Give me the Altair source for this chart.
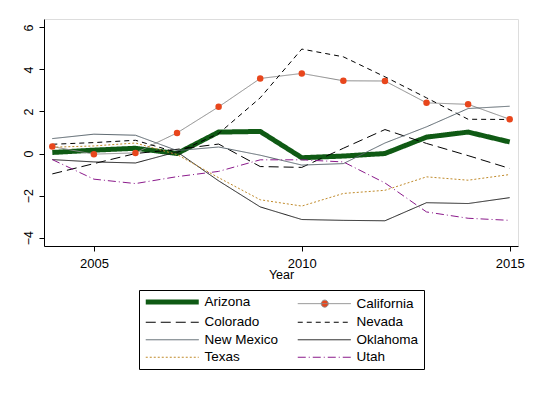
import altair as alt
import pandas as pd

years = list(range(2004, 2016))
states = ["Arizona", "California", "Colorado", "Nevada", "New Mexico", "Oklahoma", "Texas", "Utah"]

arizona = [0.05, 0.16, 0.25, 0.0, 1.02, 1.05, -0.2, -0.12, 0.0, 0.78, 1.02, 0.55]
california = [0.33, -0.03, 0.03, 0.98, 2.22, 3.57, 3.81, 3.46, 3.45, 2.41, 2.34, 1.63]
colorado = [-0.97, -0.48, 0.0, 0.2, 0.45, -0.62, -0.66, 0.25, 1.14, 0.48, -0.1, -0.71]
nevada = [0.44, 0.52, 0.63, 0.05, 0.95, 2.65, 4.97, 4.6, 3.65, 2.65, 1.63, 1.62]
new_mexico = [0.71, 0.92, 0.87, 0.14, 0.31, -0.08, -0.55, -0.48, 0.5, 1.27, 2.14, 2.25]
oklahoma = [-0.29, -0.4, -0.45, 0.08, -1.3, -2.54, -3.14, -3.18, -3.2, -2.34, -2.38, -2.1]
texas = [0.3, 0.36, 0.5, -0.05, -1.15, -2.2, -2.5, -1.9, -1.75, -1.11, -1.27, -1.0]
utah = [-0.29, -1.22, -1.43, -1.1, -0.85, -0.3, -0.3, -0.4, -1.4, -2.78, -3.08, -3.18]

series = [arizona, california, colorado, nevada, new_mexico, oklahoma, texas, utah]

colors = ["#0f5a14", "#8a8a8a", "#000000", "#000000", "#56626a", "#1a1a1a", "#c08a2a", "#8b1a8b"]
dashes = [[1, 0], [1, 0], [10, 5], [5, 4], [1, 0], [1, 0], [2, 2], [8, 3, 1, 3]]

x_ticks = [2005, 2010, 2015]
y_ticks = [-4, -2, 0, 2, 4, 6]

rows = []
for s, vals in zip(states, series):
    for yr, v in zip(years, vals):
        rows.append({"state": s, "year": yr, "value": v})
df = pd.DataFrame(rows)

FONT = "Liberation Sans"
line_path = "M-1,0H9.6"
dot_path = "M-1,0H9.6M5.1,0A0.7,0.7,0,1,1,3.7,0A0.7,0.7,0,1,1,5.1,0Z"

legend = alt.Legend(
    title=None,
    orient="none",
    legendX=95,
    legendY=271,
    columns=2,
    direction="horizontal",
    symbolType=alt.ExprRef(expr="datum.value === 'California' ? '" + dot_path + "' : '" + line_path + "'"),
    symbolFillColor=alt.ExprRef(expr="datum.value === 'California' ? '#e8461c' : 'transparent'"),
    symbolStrokeWidth=alt.ExprRef(expr="datum.value === 'Arizona' ? 5 : 1"),
    symbolSize=100,
    labelOffset=47,
    labelFontSize=13.5,
    labelFont=FONT,
    labelColor="black",
    strokeColor="black",
    padding=5,
    rowPadding=2.5,
    columnPadding=16,
)

xenc = alt.X("year:Q", scale=alt.Scale(domain=[2003.8, 2015.2], nice=False, zero=False),
             axis=alt.Axis(values=x_ticks, format="d", title="Year", grid=False,
                           tickSize=5, labelPadding=16, labelBaseline="alphabetic",
                           labelFontSize=13, labelFont=FONT, labelColor="black",
                           titleFont=FONT, titleFontSize=12.5, titleFontWeight="normal",
                           titleColor="black", titleY=32, titleBaseline="alphabetic",
                           domainColor="black", tickColor="black"))
yenc = alt.Y("value:Q", scale=alt.Scale(domain=[-4.4, 6.4], nice=False, zero=False),
             axis=alt.Axis(values=y_ticks, title=None, grid=False, tickSize=5,
                           labelAngle=270, labelAlign="center", labelBaseline="alphabetic",
                           labelPadding=7, labelFontSize=12.5, labelFont=FONT, labelColor="black",
                           domainColor="black", tickColor="black"))
color = alt.Color("state:N", scale=alt.Scale(domain=states, range=colors), legend=legend)
dash = alt.StrokeDash("state:N", scale=alt.Scale(domain=states, range=dashes), legend=legend)

base = alt.Chart(df)
az_line = base.transform_filter(alt.datum.state == "Arizona").mark_line(strokeWidth=5, strokeJoin="miter").encode(
    x=xenc, y=yenc, color=color, strokeDash=dash)
other_lines = base.transform_filter(alt.datum.state != "Arizona").mark_line(strokeWidth=1).encode(
    x=xenc, y=yenc, color=color, strokeDash=dash)
ca_points = base.transform_filter(alt.datum.state == "California").mark_point(
    filled=True, size=42, opacity=1, color="#e8461c").encode(x=xenc, y=yenc)

chart = alt.layer(az_line, other_lines, ca_points).properties(
    width=474, height=227,
    autosize=alt.AutoSizeParams(type="none"),
    padding={"left": 36, "top": 11, "right": 11, "bottom": 139},
).configure_view(stroke="black", strokeWidth=1).configure(background="white")

chart.save("out.html", embed_options={"renderer": "svg", "actions": False})
